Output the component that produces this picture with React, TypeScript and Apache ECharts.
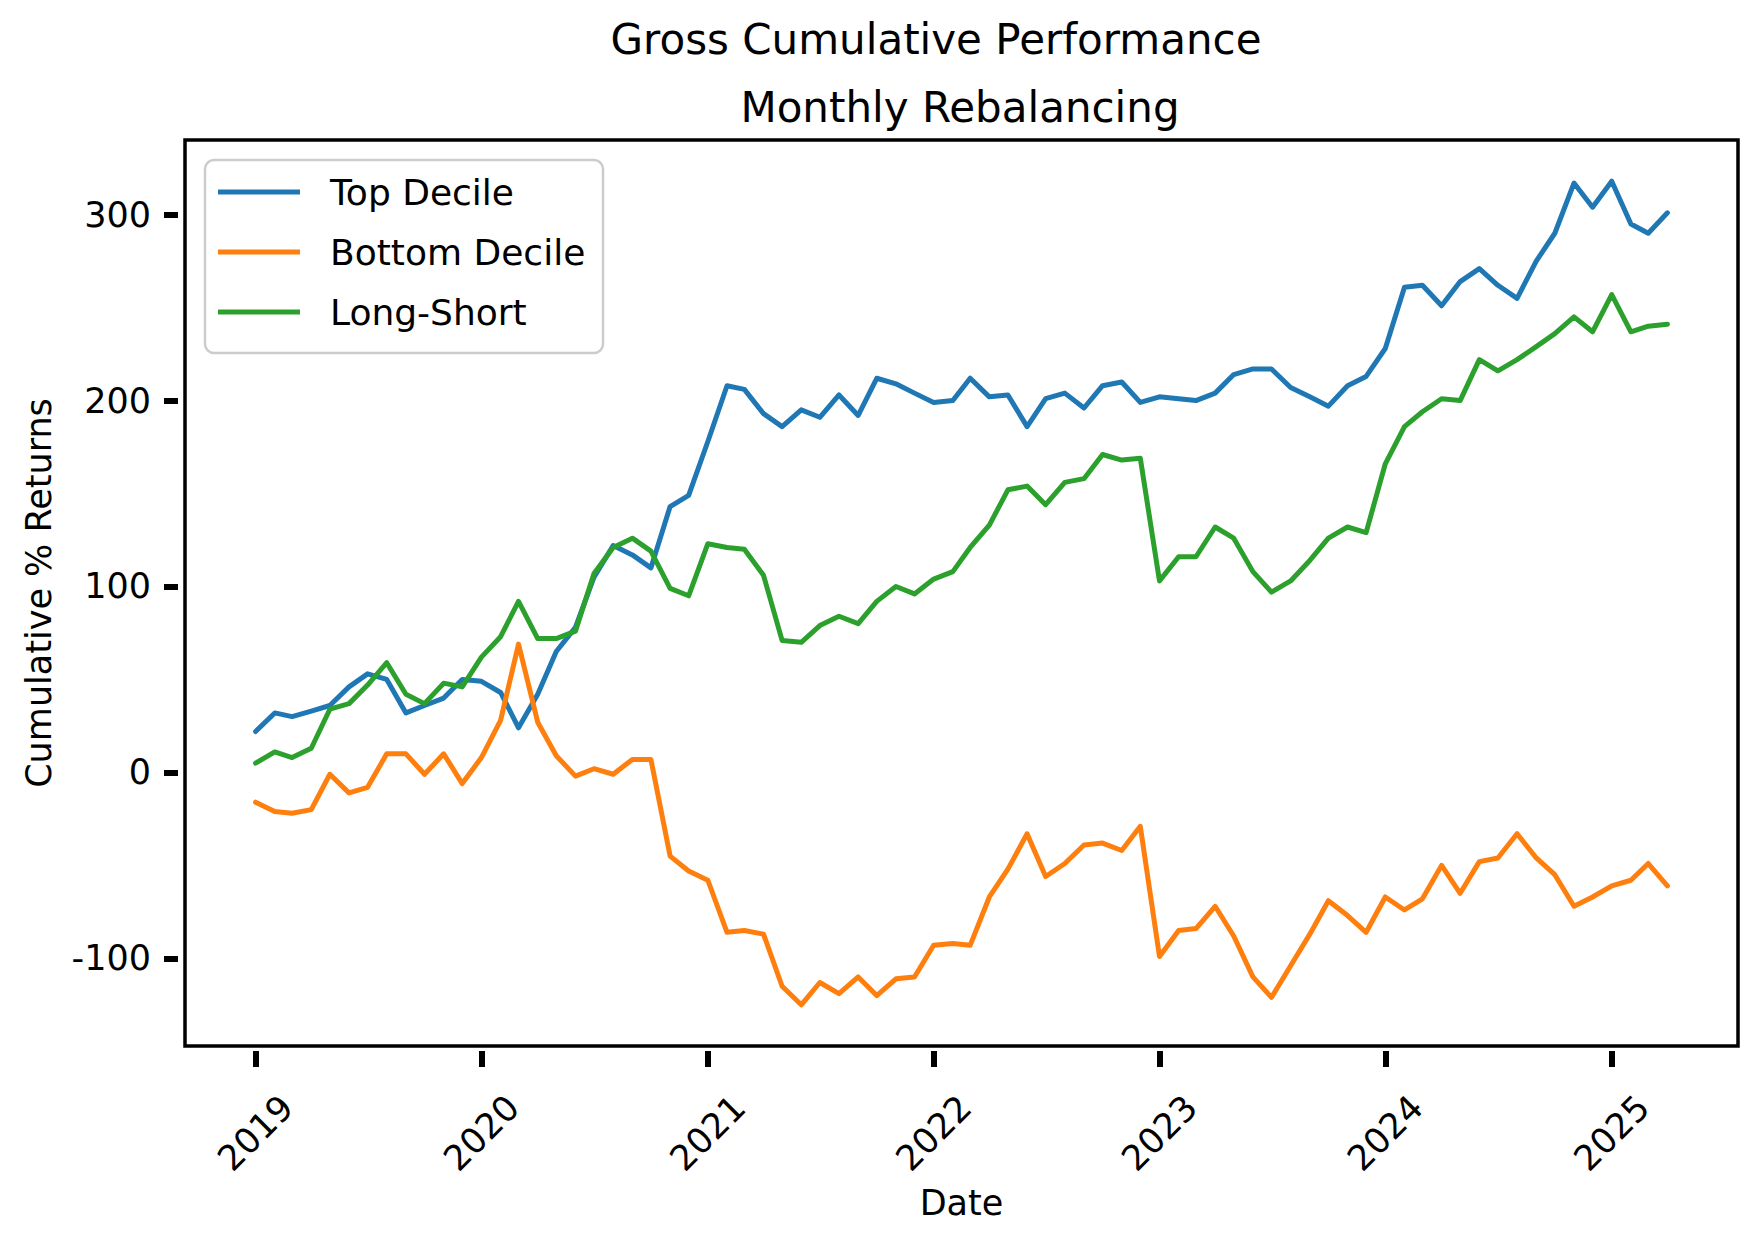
import React, { useEffect, useRef } from "react";
import * as echarts from "echarts";

const FONT = "DejaVu Sans";
const START_YEAR = 2019;
const N_MONTHS = 76; // 2019-01 .. 2025-04

const seriesNames = ["Top Decile", "Bottom Decile", "Long-Short"];
const seriesColors = ["#1f77b4", "#ff7f0e", "#2ca02c"];

const titleLines = ["Gross Cumulative Performance", "Monthly Rebalancing"];

const topDecile = [
  22, 32, 30, 33, 36, 46, 53, 50, 32, 36, 40, 50,
  49, 43, 24, 42, 65, 78, 105, 122, 117, 110, 143, 149,
  178, 208, 206, 193, 186, 195, 191, 203, 192, 212, 209, 204,
  199, 200, 212, 202, 203, 186, 201, 204, 196, 208, 210, 199,
  202, 201, 200, 204, 214, 217, 217, 207, 202, 197, 208, 213,
  228, 261, 262, 251, 264, 271, 262, 255, 275, 290, 317, 304,
  318, 295, 290, 301,
];

const bottomDecile = [
  -16, -21, -22, -20, -1, -11, -8, 10, 10, -1, 10, -6,
  8, 28, 69, 27, 9, -2, 2, -1, 7, 7, -45, -53,
  -58, -86, -85, -87, -115, -125, -113, -119, -110, -120, -111, -110,
  -93, -92, -93, -67, -52, -33, -56, -49, -39, -38, -42, -29,
  -99, -85, -84, -72, -88, -110, -121, -104, -87, -69, -77, -86,
  -67, -74, -68, -50, -65, -48, -46, -33, -46, -55, -72, -67,
  -61, -58, -49, -61,
];

const longShort = [
  5, 11, 8, 13, 34, 37, 47, 59, 42, 37, 48, 46,
  62, 73, 92, 72, 72, 76, 107, 121, 126, 119, 99, 95,
  123, 121, 120, 106, 71, 70, 79, 84, 80, 92, 100, 96,
  104, 108, 121, 133, 152, 154, 144, 156, 158, 171, 168, 169,
  103, 116, 116, 132, 126, 108, 97, 103, 114, 126, 132, 129,
  166, 186, 194, 201, 200, 222, 216, 222, 229, 236, 245, 237,
  257, 237, 240, 241,
];

const yTickValues = [-100, 0, 100, 200, 300];
const xTickYears = [2019, 2020, 2021, 2022, 2023, 2024, 2025];

const months = Array.from({ length: N_MONTHS }, (_, i) => Date.UTC(START_YEAR, i, 1));

export default function App() {
  const ref = useRef<HTMLDivElement>(null);

  useEffect(() => {
    document.body.style.margin = "0";
    if (!ref.current) return;
    const chart = echarts.init(ref.current, undefined, { renderer: "svg" });

    const allSeries = [topDecile, bottomDecile, longShort];
    const allVals = allSeries.flat();
    const dMin = Math.min(...allVals);
    const dMax = Math.max(...allVals);
    const yPad = (dMax - dMin) * 0.05;
    const yMin = dMin - yPad;
    const yMax = dMax + yPad;

    const tFirst = months[0];
    const tLast = months[months.length - 1];
    const xPad = (tLast - tFirst) * 0.05;
    const xMin = tFirst - xPad;
    const xMax = tLast + xPad;

    const xTickValues = xTickYears.map((y) => Date.UTC(y, 0, 1));

    const titleStyle = {
      fontFamily: FONT,
      fontSize: 42,
      fontWeight: "normal",
      color: "#000",
      lineHeight: 50,
    };

    const option: any = {
      animation: false,
      backgroundColor: "#ffffff",
      textStyle: { fontFamily: FONT },
      title: [
        {
          text: titleLines[0],
          left: 936,
          top: 14,
          textAlign: "center",
          padding: 0,
          textStyle: titleStyle,
        },
        {
          text: titleLines[1],
          left: 960,
          top: 82,
          textAlign: "center",
          padding: 0,
          textStyle: titleStyle,
        },
      ],
      legend: {
        data: seriesNames,
        orient: "vertical",
        left: 205,
        top: 160,
        padding: [12, 19, 21, 13],
        itemWidth: 82,
        itemHeight: 5,
        itemGap: 20,
        icon: "rect",
        textStyle: {
          fontFamily: FONT,
          fontSize: 36,
          color: "#000",
          lineHeight: 40,
          padding: [0, 0, 0, 25],
        },
      },
      graphic: [
        {
          type: "rect",
          z: 3,
          shape: { x: 205, y: 160, width: 398, height: 193, r: 9 },
          style: { fill: "rgba(255,255,255,0.85)", stroke: "#cccccc", lineWidth: 2.5 },
        },
      ],
      grid: {
        left: 185,
        top: 140,
        right: 17,
        bottom: 200,
        show: true,
        borderColor: "#000",
        borderWidth: 3.5,
        backgroundColor: "transparent",
      },
      xAxis: [
        {
          type: "value",
          min: xMin,
          max: xMax,
          position: "bottom",
          axisLine: { show: false, onZero: false },
          axisTick: { show: false },
          axisLabel: { show: false },
          splitLine: { show: false },
          name: "Date",
          nameLocation: "middle",
          nameGap: 139,
          nameTextStyle: { fontFamily: FONT, fontSize: 35, color: "#000" },
        },
        {
          type: "value",
          min: xMin,
          max: xMax,
          position: "bottom",
          offset: 5,
          axisLine: { show: false, onZero: false },
          axisTick: {
            show: true,
            length: 16,
            customValues: xTickValues,
            lineStyle: { color: "#000", width: 6 },
          },
          axisLabel: {
            customValues: xTickValues,
            formatter: (v: number) => String(new Date(v).getUTCFullYear()),
            rotate: 45,
            align: "center",
            verticalAlign: "middle",
            margin: 82,
            fontFamily: FONT,
            fontSize: 35,
            color: "#000",
          },
          splitLine: { show: false },
        },
      ],
      yAxis: [
        {
          type: "value",
          min: yMin,
          max: yMax,
          position: "left",
          axisLine: { show: false, onZero: false },
          axisTick: { show: false },
          axisLabel: { show: false },
          splitLine: { show: false },
          name: "Cumulative % Returns",
          nameLocation: "middle",
          nameRotate: 90,
          nameGap: 129,
          nameTextStyle: { fontFamily: FONT, fontSize: 35, color: "#000" },
        },
        {
          type: "value",
          min: yMin,
          max: yMax,
          position: "left",
          offset: 7,
          axisLine: { show: false, onZero: false },
          axisTick: {
            show: true,
            length: 14,
            customValues: yTickValues,
            lineStyle: { color: "#000", width: 6 },
          },
          axisLabel: {
            customValues: yTickValues,
            formatter: (v: number) => String(Math.round(v)),
            margin: 27,
            fontFamily: FONT,
            fontSize: 35,
            color: "#000",
          },
          splitLine: { show: false },
        },
      ],
      series: allSeries.map((arr, k) => ({
        name: seriesNames[k],
        type: "line",
        xAxisIndex: 0,
        yAxisIndex: 0,
        showSymbol: false,
        symbol: "none",
        color: seriesColors[k],
        z: 2 + k,
        lineStyle: { width: 5, color: seriesColors[k], join: "round", cap: "round" },
        data: months.map((t, i) => [t, arr[i]]),
      })),
    };

    chart.setOption(option);
    return () => chart.dispose();
  }, []);

  return (
    <div
      ref={ref}
      style={{ width: 1755, height: 1246, overflow: "hidden", background: "#fff" }}
    />
  );
}
